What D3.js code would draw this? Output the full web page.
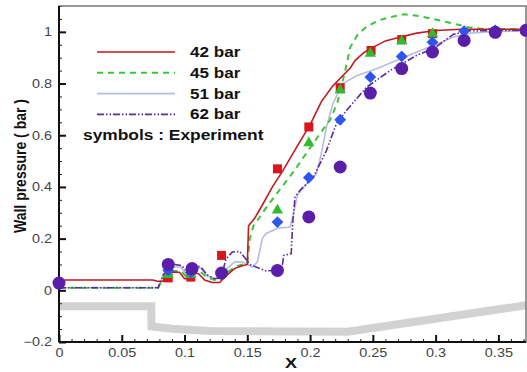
<!DOCTYPE html>
<html>
<head>
<meta charset="utf-8">
<script src="https://cdn.jsdelivr.net/npm/d3@7"></script>
<style>
  body { margin: 0; background: #fff; }
  svg { display: block; font-family: Arial, "Liberation Sans", sans-serif; }
</style>
</head>
<body>
<div id="chart"></div>
<script>
// computed wall pressure
const red42 = [[0,0.04],[0.075,0.04],[0.078,0.035],[0.083,0.035],[0.085,0.065],[0.09,0.07],[0.096,0.07],[0.1,0.045],[0.103,0.045],[0.107,0.065],[0.111,0.065],[0.116,0.04],[0.122,0.03],[0.128,0.03],[0.134,0.06],[0.14,0.085],[0.146,0.095],[0.15,0.1],[0.151,0.25],[0.156,0.28],[0.162,0.33],[0.17,0.4],[0.178,0.46],[0.19,0.56],[0.2,0.64],[0.209,0.73],[0.218,0.79],[0.226,0.83],[0.232,0.86],[0.236,0.89],[0.243,0.92],[0.25,0.94],[0.26,0.965],[0.272,0.98],[0.285,0.995],[0.3,1.005],[0.32,1.01],[0.372,1.01]];
const green45 = [[0,0.01],[0.075,0.01],[0.079,0.01],[0.083,0.05],[0.087,0.065],[0.092,0.075],[0.097,0.075],[0.101,0.055],[0.105,0.06],[0.109,0.075],[0.113,0.07],[0.118,0.05],[0.124,0.04],[0.129,0.04],[0.134,0.07],[0.14,0.09],[0.146,0.1],[0.15,0.105],[0.152,0.2],[0.155,0.25],[0.158,0.27],[0.165,0.32],[0.176,0.39],[0.187,0.46],[0.197,0.53],[0.207,0.6],[0.216,0.66],[0.222,0.73],[0.228,0.85],[0.232,0.94],[0.238,0.99],[0.245,1.02],[0.255,1.045],[0.264,1.057],[0.275,1.068],[0.288,1.06],[0.3,1.048],[0.314,1.032],[0.326,1.018],[0.336,1.012],[0.372,1.01]];
const blue51 = [[0,0.01],[0.075,0.01],[0.079,0.01],[0.083,0.055],[0.087,0.07],[0.092,0.09],[0.097,0.09],[0.101,0.065],[0.105,0.07],[0.109,0.09],[0.113,0.085],[0.118,0.055],[0.124,0.045],[0.129,0.045],[0.134,0.085],[0.14,0.11],[0.146,0.11],[0.15,0.1],[0.154,0.09],[0.158,0.11],[0.16,0.155],[0.162,0.2],[0.165,0.22],[0.174,0.24],[0.184,0.245],[0.187,0.3],[0.19,0.37],[0.197,0.41],[0.205,0.45],[0.209,0.53],[0.213,0.63],[0.218,0.72],[0.226,0.8],[0.237,0.83],[0.253,0.857],[0.272,0.896],[0.288,0.928],[0.3,0.95],[0.314,0.98],[0.328,0.995],[0.341,1.0],[0.372,1.005]];
const purple62 = [[0,0.01],[0.075,0.01],[0.079,0.01],[0.083,0.06],[0.087,0.08],[0.092,0.1],[0.098,0.095],[0.101,0.075],[0.105,0.08],[0.109,0.095],[0.113,0.09],[0.118,0.06],[0.124,0.045],[0.129,0.05],[0.133,0.12],[0.138,0.148],[0.144,0.15],[0.149,0.12],[0.152,0.1],[0.157,0.09],[0.165,0.075],[0.173,0.077],[0.178,0.1],[0.179,0.135],[0.185,0.142],[0.186,0.25],[0.188,0.36],[0.192,0.387],[0.2026,0.438],[0.213,0.54],[0.221,0.645],[0.229,0.696],[0.245,0.786],[0.264,0.851],[0.285,0.909],[0.3,0.94],[0.314,0.99],[0.326,1.004],[0.372,1.006]];

// experiment symbols
const exp42 = [[0.087,0.048],[0.105,0.051],[0.1295,0.135],[0.174,0.47],[0.199,0.632],[0.224,0.784],[0.2486,0.928],[0.273,0.97],[0.2975,0.993]];
const exp45 = [[0.087,0.06],[0.105,0.06],[0.174,0.31],[0.199,0.57],[0.224,0.774],[0.248,0.916],[0.273,0.964],[0.2975,0.993]];
const exp51 = [[0.087,0.077],[0.105,0.07],[0.174,0.264],[0.199,0.436],[0.224,0.66],[0.248,0.825],[0.273,0.905],[0.2975,0.96],[0.3227,1.003],[0.3475,1.006]];
const exp62 = [[0,0.028],[0.087,0.1],[0.106,0.084],[0.1295,0.067],[0.174,0.077],[0.199,0.284],[0.224,0.477],[0.248,0.763],[0.273,0.858],[0.2975,0.922],[0.3227,0.967],[0.3475,0.998],[0.372,1.006]];

// nozzle wall contour (gray)
const wall = [[0,-0.062],[0.0735,-0.062],[0.0737,-0.14],[0.09,-0.149],[0.12,-0.157],[0.23,-0.16],[0.372,-0.058]];

const xTicks = [0, 0.05, 0.1, 0.15, 0.2, 0.25, 0.3, 0.35];
const yTicks = [-0.2, 0, 0.2, 0.4, 0.6, 0.8, 1];
const legendNames = ['42 bar', '45 bar', '51 bar', '62 bar'];

const width = 527, height = 372;
const margin = { top: 6, right: 1, bottom: 30, left: 59 };

const svg = d3.select('#chart').append('svg')
  .attr('width', width)
  .attr('height', height);

const x = d3.scaleLinear().domain([0, 0.372]).range([margin.left, width - margin.right]);
const y = d3.scaleLinear().domain([-0.2, 1.1]).range([height - margin.bottom, margin.top]);

const line = d3.line().x(d => x(d[0])).y(d => y(d[1]));

// the source figure's text is a bit wider than plain Arial
function widen(sel, k) {
  sel.each(function() {
    const w = this.getComputedTextLength();
    d3.select(this).attr('textLength', w * k).attr('lengthAdjust', 'spacingAndGlyphs');
  });
}

// wall
svg.append('path')
  .attr('d', line(wall))
  .attr('fill', 'none')
  .attr('stroke', '#d2d2d2')
  .attr('stroke-width', 8);

// axes with minor ticks pointing inward
const xMinor = d3.range(0, 0.3721, 0.01).map(v => +v.toFixed(2));
const yMinor = d3.range(-0.2, 1.1001, 0.05).map(v => +v.toFixed(2));

svg.append('g')
  .attr('transform', `translate(0,${y(-0.2)})`)
  .call(d3.axisBottom(x).tickValues(xMinor).tickSize(-3).tickFormat(''))
  .call(g => g.select('.domain').remove())
  .selectAll('line').attr('stroke', '#222');

svg.append('g')
  .attr('transform', `translate(${x(0)},0)`)
  .call(d3.axisLeft(y).tickValues(yMinor).tickSize(-3).tickFormat(''))
  .call(g => g.select('.domain').remove())
  .selectAll('line').attr('stroke', '#222');

const xAxis = svg.append('g')
  .attr('transform', `translate(0,${y(-0.2)})`)
  .call(d3.axisBottom(x).tickValues(xTicks).tickSize(-7).tickPadding(6).tickFormat(d => d3.format('')(d)));
xAxis.select('.domain').remove();
xAxis.selectAll('line').attr('stroke', '#111').attr('stroke-width', 2);
xAxis.selectAll('text').attr('font-size', 12).attr('fill', '#444').call(widen, 1.2);

const yAxis = svg.append('g')
  .attr('transform', `translate(${x(0)},0)`)
  .call(d3.axisLeft(y).tickValues(yTicks).tickSize(-7).tickPadding(7).tickFormat(d => d3.format('')(d)));
yAxis.select('.domain').remove();
yAxis.selectAll('line').attr('stroke', '#111').attr('stroke-width', 2);
yAxis.selectAll('text').attr('font-size', 12).attr('fill', '#444').call(widen, 1.2);

// frame
svg.append('rect')
  .attr('x', x(0)).attr('y', y(1.1))
  .attr('width', x(0.372) - x(0)).attr('height', y(-0.2) - y(1.1))
  .attr('fill', 'none').attr('stroke', '#777').attr('stroke-width', 1.5);
svg.append('line')
  .attr('x1', x(0)).attr('x2', x(0)).attr('y1', y(1.1)).attr('y2', y(-0.2))
  .attr('stroke', '#111').attr('stroke-width', 2);
svg.append('line')
  .attr('x1', x(0)).attr('x2', x(0.372)).attr('y1', y(-0.2)).attr('y2', y(-0.2))
  .attr('stroke', '#111').attr('stroke-width', 2);

// series lines
const styles = [
  { data: red42, color: '#c21a1f', dash: null, w: 1.6 },
  { data: green45, color: '#3cc43c', dash: '6,5', w: 2 },
  { data: blue51, color: '#b8bce0', dash: null, w: 1.6 },
  { data: purple62, color: '#5a2d9c', dash: '7,2,1.5,2,1.5,2', w: 1.6 }
];

[2, 1, 3, 0].forEach(i => {
  const s = styles[i];
  svg.append('path')
    .attr('d', line(s.data))
    .attr('fill', 'none')
    .attr('stroke', s.color)
    .attr('stroke-width', s.w)
    .attr('stroke-dasharray', s.dash);
});

// symbols
svg.append('g').selectAll('rect')
  .data(exp42).join('rect')
  .attr('x', d => x(d[0]) - 4.5).attr('y', d => y(d[1]) - 4.5)
  .attr('width', 9).attr('height', 9)
  .attr('fill', '#d8161b');

svg.append('g').selectAll('path')
  .data(exp45).join('path')
  .attr('transform', d => `translate(${x(d[0])},${y(d[1])})`)
  .attr('d', d3.symbol(d3.symbolTriangle, 55)())
  .attr('fill', '#2fbd2f');

svg.append('g').selectAll('path')
  .data(exp51).join('path')
  .attr('transform', d => `translate(${x(d[0])},${y(d[1])}) rotate(45)`)
  .attr('d', d3.symbol(d3.symbolSquare, 70)())
  .attr('fill', '#2e55ee');

svg.append('g').selectAll('circle')
  .data(exp62).join('circle')
  .attr('cx', d => x(d[0])).attr('cy', d => y(d[1]))
  .attr('r', 6.5)
  .attr('fill', '#5a1ea8');

// legend
const legend = svg.append('g');
legendNames.forEach((name, i) => {
  const s = styles[i];
  const ly = 52 + i * 20.8;
  legend.append('line')
    .attr('x1', 97).attr('x2', 175).attr('y1', ly).attr('y2', ly)
    .attr('stroke', s.color).attr('stroke-width', s.w)
    .attr('stroke-dasharray', s.dash);
  legend.append('text')
    .attr('x', 190).attr('y', ly + 5)
    .attr('font-size', 14).attr('font-weight', 'bold').attr('fill', '#111')
    .text(name)
    .call(widen, 1.22);
});
legend.append('text')
  .attr('x', 83).attr('y', 140)
  .attr('font-size', 14).attr('font-weight', 'bold').attr('fill', '#111')
  .text('symbols : Experiment')
  .call(widen, 1.24);

// axis titles
svg.append('text')
  .attr('x', 291).attr('y', 368)
  .attr('text-anchor', 'middle')
  .attr('font-size', 15).attr('font-weight', 'bold').attr('fill', '#111')
  .text('X')
  .call(widen, 1.2);

// rotated title: stretch glyph height so it reads as wide as the source
svg.append('text')
  .attr('transform', `translate(20,166) rotate(-90) scale(1,1.2)`)
  .attr('text-anchor', 'middle')
  .attr('dy', '0.35em')
  .attr('font-size', 14).attr('font-weight', 'bold').attr('fill', '#111')
  .text('Wall pressure ( bar )');
</script>
</body>
</html>
